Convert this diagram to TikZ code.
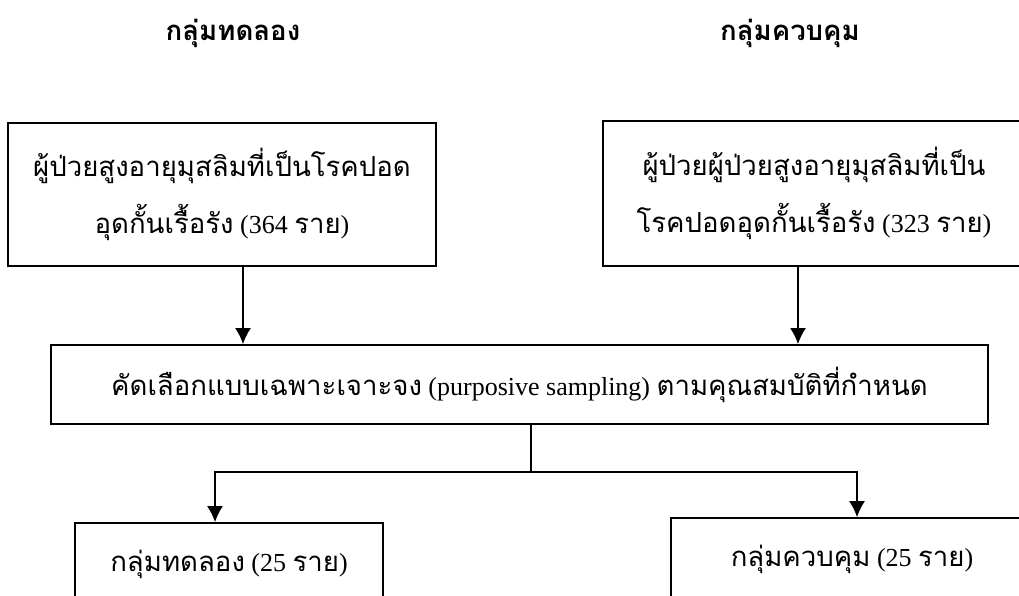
\documentclass[tikz,border=0pt]{standalone}
\usepackage{fontspec}
\usetikzlibrary{arrows.meta}
\setmainfont{Liberation Serif}
\newfontfamily\thaifont[Script=Thai,Scale=1.06]{Loma}
\newcommand{\tha}[1]{{\thaifont #1}}
\begin{document}
\begin{tikzpicture}[x=1pt,y=-1pt,
  box/.style={draw,line width=1.6pt,inner sep=0pt,align=center,font=\fontsize{26}{57}\selectfont},
  head/.style={font=\fontsize{26}{30}\selectfont\bfseries\thaifont},
  arr/.style={line width=2pt,-{Latex[length=16pt,width=16pt]}}]
 \useasboundingbox (0,0) rectangle (1019,595);
 \clip (0,0) rectangle (1019,595);
 \node[head] (hexp) at (233,33) {กลุ่มทดลอง};
 \node[head] (hctl) at (790,33) {กลุ่มควบคุม};
 \node[box,minimum width=428pt,minimum height=143pt] (popexp) at (222,194.5)
   {\tha{ผู้ป่วยสูงอายุมุสลิมที่เป็นโรคปอด}\\\tha{อุดกั้นเรื้อรัง} (364 \tha{ราย})};
 \node[box,minimum width=422pt,minimum height=145pt] (popctl) at (814,193.5)
   {\tha{ผู้ป่วยผู้ป่วยสูงอายุมุสลิมที่เป็น}\\\tha{โรคปอดอุดกั้นเรื้อรัง} (323 \tha{ราย})};
 \node[box,minimum width=937pt,minimum height=79pt] (select) at (519.5,384.5)
   {\tha{คัดเลือกแบบเฉพาะเจาะจง} (purposive sampling) \tha{ตามคุณสมบัติที่กำหนด}};
 \node[box,minimum width=308pt,minimum height=82pt] (grpexp) at (229,564)
   {\tha{กลุ่มทดลอง} (25 \tha{ราย})};
 \node[box,minimum width=362pt,minimum height=82pt] (grpctl) at (852,559)
   {\tha{กลุ่มควบคุม} (25 \tha{ราย})};
 \coordinate (split) at (531,472);
 \draw[arr] ([xshift=21pt]popexp.south) -- ([xshift=21pt]popexp.south |- select.north);
 \draw[arr] ([xshift=-16pt]popctl.south) -- ([xshift=-16pt]popctl.south |- select.north);
 \draw[line width=1.6pt] (select.south -| split) -- (split);
 \draw[arr] (split) -| ([xshift=-14pt]grpexp.north);
 \draw[arr] (split) -| ([xshift=5pt]grpctl.north);
\end{tikzpicture}
\end{document}
